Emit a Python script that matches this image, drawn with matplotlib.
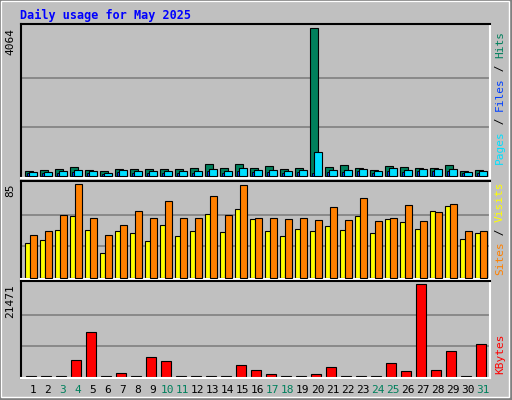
import matplotlib
matplotlib.use("Agg")
import matplotlib.pyplot as plt
from matplotlib.patches import Rectangle

days = list(range(1, 32))
weekend = [3, 4, 10, 11, 17, 18, 24, 25, 31]
hits = [120,147,175,230,147,120,175,175,175,175,175,202,312,202,312,202,258,175,202,4064,230,285,202,147,258,230,202,202,285,120,147]
files = [92,92,120,147,120,64,147,120,120,120,120,120,175,120,202,147,147,120,147,644,147,147,175,120,202,147,175,175,175,92,120]
pages = [70,70,80,100,80,40,100,80,80,80,80,80,120,80,140,100,100,80,100,90,100,100,120,80,140,100,120,120,120,70,80]
sites = [31,34,43,56,43,22,42,40,33,48,38,42,58,41,62,53,42,38,44,42,47,43,56,40,53,50,44,60,65,35,40]
visits = [39,42,57,85,54,39,48,60,54,69,54,54,74,57,84,54,54,53,54,52,64,52,72,51,54,66,51,59,67,42,42]
kbytes = [150,150,150,3850,10450,150,790,150,4560,3620,150,150,150,150,2670,1490,550,150,150,550,2200,150,150,150,3140,1260,21471,1490,5970,150,7620]

W, H = 512, 400
fig = plt.figure(figsize=(W/100, H/100), dpi=100, facecolor="#c0c0c0")
fig.patches.append(Rectangle((0, 0), 1, 1, transform=fig.transFigure, fill=False, edgecolor="#808080", lw=3))
fig.patches.append(Rectangle((1/W, 3/H), 1-4/W, 1-4/H, transform=fig.transFigure, fill=False, edgecolor="white", lw=1))

def ax_px(x0, y0, x1, y1):
    return fig.add_axes([x0/W, 1-y1/H, (x1-x0)/W, (y1-y0)/H])

mono = "DejaVu Sans Mono"
xl = (1 - 4/15, 32)

def style(ax, top, frac):
    ax.set_facecolor("#c0c0c0")
    ax.set_xlim(*xl)
    ax.set_ylim(-top*0.015, top*frac)
    for g in (top/3, 2*top/3):
        ax.axhline(g, color="#808080", lw=1.2, zorder=0)
    ax.set_xticks([]); ax.set_yticks([])
    for s in ax.spines.values():
        s.set_color("white"); s.set_linewidth(1.5)
    ax.spines["top"].set_color("black"); ax.spines["left"].set_color("black")
    ax.text(-0.012, (top - (-top*0.015))/(top*frac + top*0.015), str(top), transform=ax.transAxes,
            rotation=90, ha="right", va="top", family=mono, fontsize=8)

ax1 = ax_px(21, 24, 490, 178)
ax1.bar([d for d in days], hits, width=0.55, align="edge", color="#00805c", edgecolor="black", lw=0.8, zorder=2)
ax1.bar([d + 0.13 for d in days], pages, width=0.14, align="edge", color="#0040ff", edgecolor="black", lw=0.6, zorder=3)
ax1.bar([d + 0.27 for d in days], files, width=0.5, align="edge", color="#00e0ff", edgecolor="black", lw=0.8, zorder=4)
style(ax1, 4064, 1.03)

ax2 = ax_px(21, 181, 490, 279)
ax2.bar(days, sites, width=0.33, align="edge", color="#ffff00", edgecolor="black", lw=0.8, zorder=2)
ax2.bar([d + 0.33 for d in days], visits, width=0.45, align="edge", color="#ff8000", edgecolor="black", lw=0.8, zorder=3)
style(ax2, 85, 1.03)

ax3 = ax_px(21, 281, 490, 378)
ax3.bar([d + 0.07 for d in days], kbytes, width=0.66, align="edge", color="#ff0000", edgecolor="black", lw=0.8, zorder=2)
style(ax3, 21471, 1.035)
ax3.set_xticks([d + 0.53 for d in days])
ax3.set_xticklabels([str(d) for d in days], family=mono, fontsize=8)
ax3.tick_params(axis="x", length=0, pad=5)
for lab, d in zip(ax3.get_xticklabels(), days):
    lab.set_color("#00805c" if d in weekend else "black")

fig.text(20/W, 1-15/H, "Daily usage for May 2025", family=mono, fontweight="bold",
         fontsize=8.5, color="#0000ff", va="center", ha="left")

def vlabel(parts, ybottom):
    y = ybottom
    for txt, col in parts:
        fig.text(500/W, 1-y/H, txt, rotation=90, ha="center", va="bottom", family=mono,
                 fontsize=8, color=col)
        y -= 6.6*len(txt)

vlabel([("Pages", "#00e0ff"), (" / ", "black"), ("Files", "#0040ff"), (" / ", "black"), ("Hits", "#00805c")], 164)
vlabel([("Sites", "#ff8000"), (" / ", "black"), ("Visits", "#ffff00")], 275)
vlabel([("KBytes", "#ff0000")], 374)

fig.savefig("out.png", dpi=100, facecolor=fig.get_facecolor())
